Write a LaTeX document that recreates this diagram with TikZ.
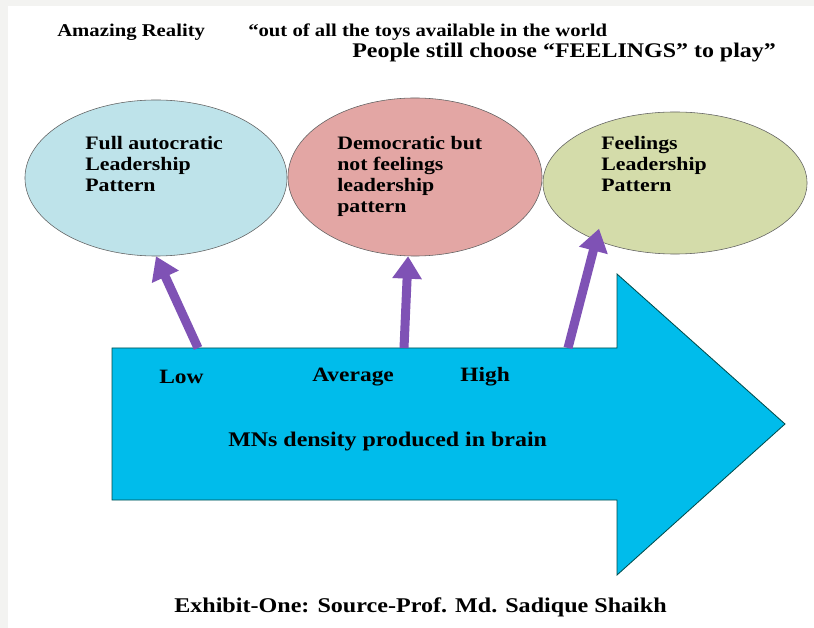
\documentclass[tikz,border=0pt]{standalone}
\usepackage{fontspec}
\setmainfont{Liberation Serif}[FakeStretch=1.15]
\usepackage{tikz}
\usetikzlibrary{positioning,shapes,arrows.meta,calc}
\definecolor{autocblue}{RGB}{190,227,234}
\definecolor{democpink}{RGB}{227,166,164}
\definecolor{feelgreen}{RGB}{212,220,170}
\definecolor{mnscyan}{RGB}{0,188,235}
\definecolor{tapviolet}{RGB}{127,82,181}
\definecolor{framegray}{RGB}{243,243,241}

\begin{document}
\begin{tikzpicture}[
        x=0.025cm, y=-0.025cm,
        >={Triangle[length=16pt,width=20pt]},
        bubble/.style={draw=gray!75!black, ellipse, inner sep=0pt},
        bubtext/.style={anchor=north west, align=left, inner sep=0pt,
            font=\fontsize{13.5}{15}\selectfont\bfseries},
        lvl/.style={anchor=west, inner sep=0pt, font=\fontsize{14.5}{16}\selectfont\bfseries},
        caption/.style={anchor=west, inner sep=0pt, font=\fontsize{12.8}{15}\selectfont\bfseries},
        tap/.style={->, tapviolet, line width=6.4pt},
    ]
    % page and frame
    \useasboundingbox (0,0) rectangle (814,628);
    \fill[framegray] (0,0) rectangle (814,628);
    \fill[white] (8,6) rectangle (814,628);

    % heading
    \node[caption] (amaze) at (57,32) {Amazing Reality};
    \node[caption] (quote) at (248,32) {``out of all the toys available in the world};
    \node[caption, font=\fontsize{14.8}{16}\selectfont\bfseries] (choose) at (352,53)
        {People still choose ``FEELINGS'' to play''};

    % leadership patterns
    \node[bubble, fill=autocblue, minimum width=6.55cm, minimum height=3.9cm] (autoc) at (156,178) {};
    \node[bubble, fill=democpink, minimum width=6.35cm, minimum height=3.95cm] (democ) at (415,177) {};
    \node[bubble, fill=feelgreen, minimum width=6.6cm, minimum height=3.55cm] (feel) at (675,183) {};
    \node[bubtext] (autoctxt) at (85,136) {Full autocratic\\Leadership\\Pattern};
    \node[bubtext] (democtxt) at (337,136) {Democratic but\\not feelings\\leadership\\pattern};
    \node[bubtext] (feeltxt) at (601,136) {Feelings\\Leadership\\Pattern};

    % big arrow
    \draw[fill=mnscyan, draw=teal!60!black, line width=0.6pt]
        (112,348) -- (617,348) -- (617,274) -- (785,424) -- (617,575)
        -- (617,500) -- (112,500) -- cycle;
    \coordinate (lowtap) at (198,348);
    \coordinate (avgtap) at (404,348);
    \coordinate (hightap) at (568,348);

    \node[lvl] (low) at (159,377) {Low};
    \node[lvl] (avg) at (312,377) {Average};
    \node[lvl] (high) at (460,377) {High};
    \node[lvl, font=\fontsize{14.8}{16}\selectfont\bfseries] (mns) at (228,442)
        {MNs density produced in brain};

    \draw[tap] (lowtap) -- (autoc.south);
    \draw[tap] (avgtap) -- (democ.265);
    \draw[tap] (hightap) -- ($(feel.center)!.86!(feel.211)$);

    \node[lvl, font=\fontsize{14.9}{16}\selectfont\bfseries] (exhibit) at (174,607)
        {Exhibit-One: Source-Prof. Md. Sadique Shaikh};
\end{tikzpicture}
\end{document}
